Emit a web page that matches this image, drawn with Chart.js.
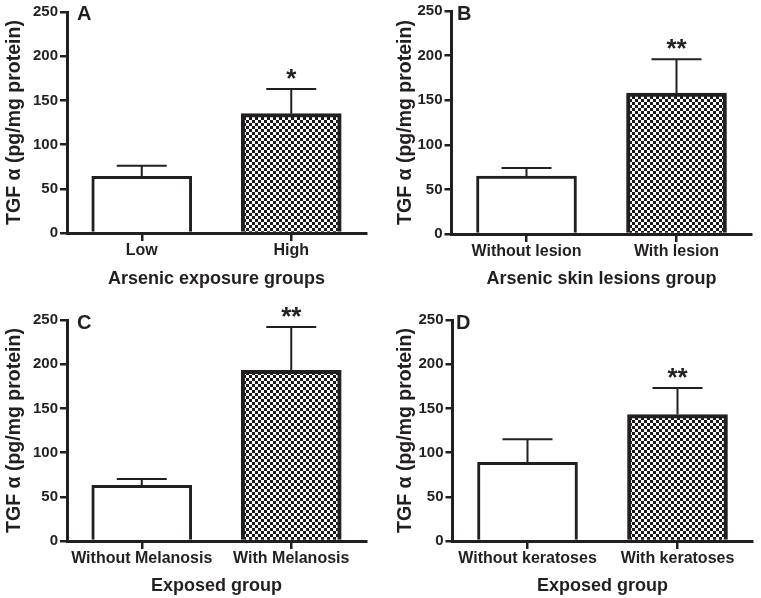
<!DOCTYPE html>
<html>
<head>
<meta charset="utf-8">
<script src="https://cdn.jsdelivr.net/npm/chart.js@4.4.1/dist/chart.umd.min.js"></script>
<style>
  html, body { margin: 0; padding: 0; background: #ffffff; }
  body { width: 761px; height: 598px; position: relative; overflow: hidden; }
  .panel { position: absolute; }
  .panel canvas { display: block; }
</style>
</head>
<body>
<div class="panel" style="left:0px;top:0px;width:380px;height:300px"><canvas id="chartA" width="380" height="300"></canvas></div>
<div class="panel" style="left:380px;top:0px;width:381px;height:300px"><canvas id="chartB" width="381" height="300"></canvas></div>
<div class="panel" style="left:0px;top:300px;width:380px;height:298px"><canvas id="chartC" width="380" height="298"></canvas></div>
<div class="panel" style="left:380px;top:300px;width:381px;height:298px"><canvas id="chartD" width="381" height="298"></canvas></div>
<script>
// ---------------- data ----------------
const panelLetters = ['A', 'B', 'C', 'D'];
const categoriesA = ['Low', 'High'];
const categoriesB = ['Without lesion', 'With lesion'];
const categoriesC = ['Without Melanosis', 'With Melanosis'];
const categoriesD = ['Without keratoses', 'With keratoses'];
const meansA = [64, 135];
const meansB = [65, 158];
const meansC = [63, 193];
const meansD = [89, 143];
const semA = [12, 28];
const semB = [9, 38];
const semC = [7, 49];
const semD = [26, 30];
const sigA = ['', '*'];
const sigB = ['', '**'];
const sigC = ['', '**'];
const sigD = ['', '**'];
const xTitles = ['Arsenic exposure groups', 'Arsenic skin lesions group', 'Exposed group', 'Exposed group'];
const yTitle = 'TGF \u03b1 (pg/mg protein)';
const yTicks = [0, 50, 100, 150, 200, 250];

// ---------------- styling / layout ----------------
const ink = '#231f20';
const FONT = '"Liberation Sans", Arial, Helvetica, sans-serif';
Chart.defaults.font.family = FONT;
Chart.defaults.color = ink;

const layouts = [
  { id: 'chartA', w: 380, h: 300, axisX: 67,   areaTop: 12, areaBottom: 233, areaRight: 366,   yTitlePad: 3,  xTitlePad: 10, letterX: 77,  letterY: 20 },
  { id: 'chartB', w: 381, h: 300, axisX: 71.5, areaTop: 11, areaBottom: 234, areaRight: 371.5, yTitlePad: 14, xTitlePad: 10, letterX: 77,  letterY: 20 },
  { id: 'chartC', w: 380, h: 298, axisX: 67,   areaTop: 20, areaBottom: 241, areaRight: 366,   yTitlePad: 3,  xTitlePad: 1,  letterX: 77,  letterY: 28.5 },
  { id: 'chartD', w: 381, h: 298, axisX: 72.5, areaTop: 20, areaBottom: 241, areaRight: 372.5, yTitlePad: 14, xTitlePad: 1,  letterX: 76,  letterY: 28.5 }
];

function checkerPattern() {
  const c = document.createElement('canvas');
  c.width = 6; c.height = 6;
  const g = c.getContext('2d');
  g.fillStyle = '#ffffff';
  g.fillRect(0, 0, 6, 6);
  g.fillStyle = '#1a1a1a';
  g.fillRect(0, 0, 3, 3);
  g.fillRect(3, 3, 3, 3);
  return g.createPattern(c, 'repeat');
}
const pattern = checkerPattern();

const annotPlugin = {
  id: 'annot',
  afterDatasetsDraw(chart, args, opts) {
    const ctx = chart.ctx;
    const y = chart.scales.y;
    const meta = chart.getDatasetMeta(0);
    ctx.save();
    ctx.strokeStyle = ink;
    ctx.fillStyle = ink;
    ctx.lineWidth = 2;
    meta.data.forEach((bar, i) => {
      const topPx = y.getPixelForValue(opts.means[i] + opts.sem[i]);
      ctx.beginPath();
      ctx.moveTo(bar.x, bar.y);
      ctx.lineTo(bar.x, topPx);
      ctx.moveTo(bar.x - 25, topPx);
      ctx.lineTo(bar.x + 25, topPx);
      ctx.stroke();
      if (opts.sig[i]) {
        ctx.font = 'bold 26px ' + FONT;
        ctx.textAlign = 'center';
        ctx.textBaseline = 'alphabetic';
        ctx.fillText(opts.sig[i], bar.x, topPx - 2);
      }
    });
    ctx.font = 'bold 20px ' + FONT;
    ctx.textAlign = 'left';
    ctx.textBaseline = 'alphabetic';
    ctx.fillText(opts.letter, opts.letterX, opts.letterY);
    ctx.restore();
  }
};

const panels = [
  { cats: categoriesA, means: meansA, sem: semA, sig: sigA },
  { cats: categoriesB, means: meansB, sem: semB, sig: sigB },
  { cats: categoriesC, means: meansC, sem: semC, sig: sigC },
  { cats: categoriesD, means: meansD, sem: semD, sig: sigD }
];

panels.forEach((p, k) => {
  const L = layouts[k];
  new Chart(document.getElementById(L.id), {
    type: 'bar',
    data: {
      labels: p.cats,
      datasets: [{
        data: p.means,
        backgroundColor: ['#ffffff', pattern],
        borderColor: ink,
        borderWidth: [3, 4],
        barThickness: 100,
        borderSkipped: 'start'
      }]
    },
    options: {
      responsive: false,
      animation: false,
      devicePixelRatio: 1,
      layout: { padding: { left: 0, top: L.areaTop, right: L.w - L.areaRight, bottom: 0 } },
      plugins: {
        legend: { display: false },
        tooltip: { enabled: false },
        annot: { means: p.means, sem: p.sem, sig: p.sig, letter: panelLetters[k], letterX: L.letterX, letterY: L.letterY }
      },
      scales: {
        x: {
          type: 'category',
          offset: true,
          afterFit: s => { s.height = L.h - L.areaBottom; },
          grid: { display: true, drawOnChartArea: false, drawTicks: true, tickLength: 8, lineWidth: 2.5, color: ink, offset: false },
          border: { display: true, width: 3, color: ink },
          ticks: { padding: 0, color: ink, font: { size: 16, weight: 'bold' }, maxRotation: 0, autoSkip: false },
          title: { display: true, text: xTitles[k], color: ink, font: { size: 18, weight: 'bold' }, padding: { top: 0, bottom: L.xTitlePad } }
        },
        y: {
          min: 0,
          max: 250,
          afterBuildTicks: s => { s.ticks = yTicks.map(v => ({ value: v })); },
          afterFit: s => { s.width = L.axisX; },
          grid: { display: true, drawOnChartArea: false, drawTicks: true, tickLength: 7, lineWidth: 2.5, color: ink },
          border: { display: true, width: 3, color: ink },
          ticks: { padding: 2, color: ink, font: { size: 15, weight: 'bold' } },
          title: { display: true, text: yTitle, color: ink, font: { size: 19.5, weight: 'bold' }, padding: { top: L.yTitlePad, bottom: 0 } }
        }
      }
    },
    plugins: [annotPlugin]
  });
});
</script>
</body>
</html>
